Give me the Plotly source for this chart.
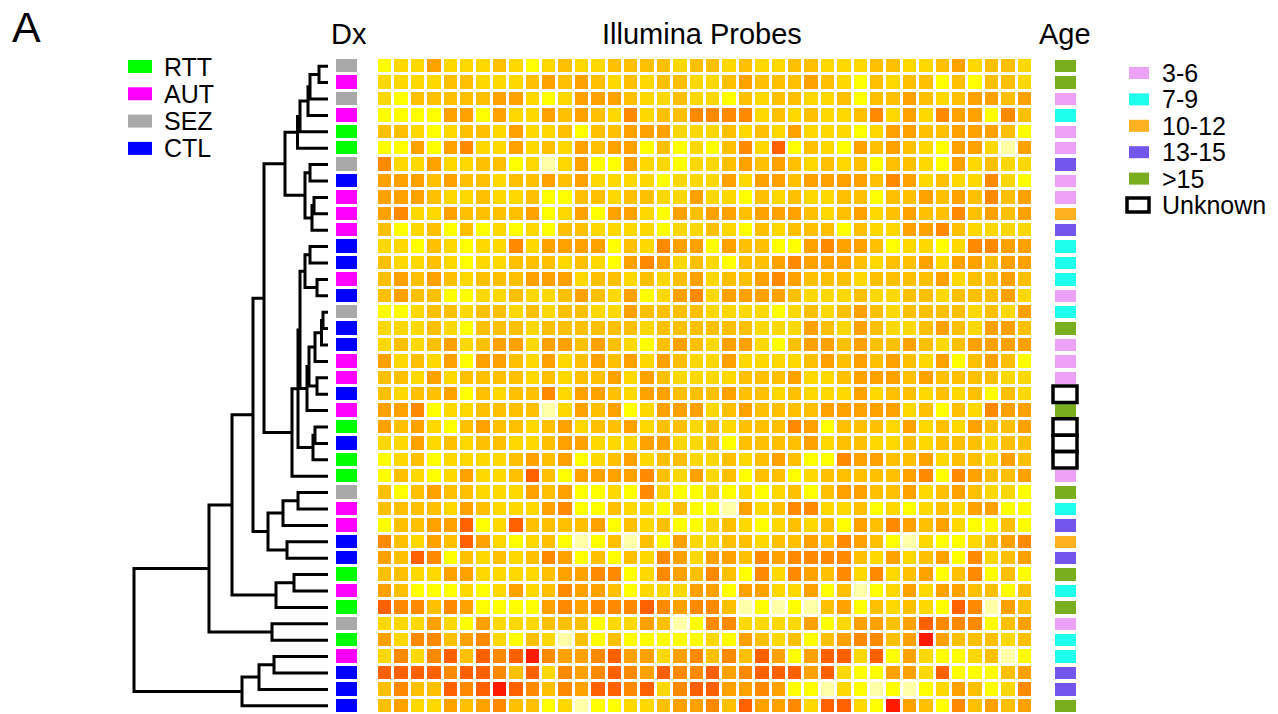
import plotly.graph_objects as go

W, H = 1278, 714

# ---- sample annotations (rows in dendrogram order) ----
dx_labels = ["SEZ", "AUT", "SEZ", "AUT", "RTT", "RTT", "SEZ", "CTL", "AUT", "AUT",
             "AUT", "CTL", "CTL", "AUT", "CTL", "SEZ", "CTL", "CTL", "AUT", "AUT",
             "CTL", "AUT", "RTT", "CTL", "RTT", "RTT", "SEZ", "AUT", "AUT", "CTL",
             "CTL", "RTT", "AUT", "RTT", "SEZ", "RTT", "AUT", "CTL", "CTL", "CTL"]

age_groups = [">15", ">15", "3-6", "7-9", "3-6", "3-6", "13-15", "3-6", "3-6", "10-12",
              "13-15", "7-9", "7-9", "7-9", "3-6", "7-9", ">15", "3-6", "3-6", "3-6",
              "Unknown", ">15", "Unknown", "Unknown", "Unknown", "3-6", ">15", "7-9", "13-15", "10-12",
              "13-15", ">15", "7-9", ">15", "3-6", "7-9", "7-9", "13-15", "13-15", ">15"]

dx_categories = ["RTT", "AUT", "SEZ", "CTL"]
dx_colors = ["#00FF00", "#FF00FF", "#A9A9A9", "#0000FF"]

age_categories = ["3-6", "7-9", "10-12", "13-15", ">15"]
age_colors = ["#EEA2F7", "#1EFFEE", "#FFB11F", "#7357ED", "#79AF1F"]

# ---- probe expression levels (0 = lowest ... 7 = highest), one string per sample ----
probe_rows = [
    "12242223212322333323" "32322332223322342332",
    "22223322234343232332" "23433343213233131332",
    "21333334421244432232" "21323322313343234434",
    "11114414224343252335" "55523232235242544153",
    "33212332422313344422" "23232422212443344431",
    "11414522423243441312" "13526132143432144204",
    "52242233120241142212" "23434323231332142322",
    "44434332334342222122" "24244344443542322521",
    "44432232231133233224" "22132322331334343534",
    "45224333341241442143" "44344432342343353434",
    "31231312121332222122" "32132333132244532222",
    "22132122524444132544" "14331145443122125544",
    "32232122333232145423" "21334544432334244344",
    "34343233344423323234" "23345433323333423343",
    "34331122322343241245" "24444322232233233342",
    "11233233232332243333" "22221232343233332324",
    "22232133323333332333" "33322243243223432443",
    "23234234424434321343" "24421344343343234444",
    "42324144324234342432" "24222234343432413431",
    "33242333323233424322" "22333422344434333322",
    "32334132335244324433" "34332322242332323132",
    "44512233330243412444" "23433334444423132544",
    "43421343323423342332" "32333541333242324334",
    "22423233223442224422" "31333342332232333233",
    "12312222343412342332" "23234311544334233243",
    "13212422363144445324" "23133123333345154334",
    "31343322243411215211" "21212313443342343221",
    "33332432224511322131" "10423552231212324411",
    "13344612633334132311" "23212323143543421131",
    "53243642123101303142" "23323343543102112345",
    "43651323235413132542" "44354555532423415234",
    "33224422223445512543" "53152543525234135131",
    "43111212423544312224" "41442241301242443313",
    "65535411114545556545" "53010103413232165043",
    "22242142223331224301" "55222241244346555134",
    "42553452132031311111" "21432313455347433323",
    "25256365675445644245" "35364146626142112301",
    "66665665362545654655" "64566646211442611134",
    "35336567653546656256" "64454110210101243125",
    "34224345331201122344" "53644526621743153434",
]
expression = [[int(c) for c in row] for row in probe_rows]

heat_colors = ["#FFFFA8", "#FFFF00", "#FFD800", "#FFC000",
               "#FFA200", "#FF8A00", "#FF6000", "#FF1A00"]

# ---- hierarchical clustering merges: (child a, child b, height); nodes >= 40 are clusters ----
linkage = [
    (0, 1, 9), (40, 2, 18), (41, 3, 20), (42, 4, 28), (43, 5, 30.5),
    (6, 7, 18), (8, 9, 14), (46, 10, 16), (45, 47, 23), (44, 48, 43),
    (11, 12, 18), (13, 14, 11), (50, 51, 23), (15, 16, 5), (53, 17, 6.5),
    (54, 18, 13), (19, 20, 11), (55, 56, 19), (57, 21, 21), (52, 58, 28),
    (22, 23, 13), (60, 24, 15), (59, 61, 30), (62, 25, 36), (49, 63, 64),
    (26, 27, 30), (65, 28, 45), (29, 30, 41), (66, 67, 60), (64, 68, 75),
    (31, 32, 34), (70, 33, 52), (69, 71, 96), (34, 35, 56), (72, 73, 119),
    (36, 37, 54), (75, 38, 69), (76, 39, 86), (74, 77, 194),
]

n = len(dx_labels)
n_probes = len(expression[0])


def px_x(p):
    return p / W


def px_y(p):
    return 1 - p / H


# dendrogram segments
pos = {i: float(i) for i in range(n)}
hgt = {i: 0.0 for i in range(n)}
dx_line, dy_line = [], []
for k, (a, b, h) in enumerate(linkage):
    dx_line += [hgt[a], h, h, hgt[b], None]
    dy_line += [pos[a], pos[a], pos[b], pos[b], None]
    pos[n + k] = (pos[a] + pos[b]) / 2
    hgt[n + k] = h


def step_scale(colors):
    m = len(colors)
    sc = []
    for i, c in enumerate(colors):
        sc += [[i / m, c], [(i + 1) / m, c]]
    return sc


rows = list(range(n))
dx_codes = [[dx_categories.index(d)] for d in dx_labels]
age_codes = [[age_categories.index(a) if a in age_categories else None] for a in age_groups]

fig = go.Figure()

fig.add_trace(go.Scatter(x=dx_line, y=dy_line, mode="lines",
                         line=dict(color="black", width=3), hoverinfo="skip",
                         xaxis="x", yaxis="y"))

fig.add_trace(go.Heatmap(z=dx_codes, x=[0], y=rows, xaxis="x2", yaxis="y",
                         colorscale=step_scale(dx_colors), zmin=-0.5,
                         zmax=len(dx_categories) - 0.5, showscale=False, ygap=3))

fig.add_trace(go.Heatmap(z=expression, x=list(range(n_probes)), y=rows, xaxis="x3", yaxis="y",
                         colorscale=[[i / 7, c] for i, c in enumerate(heat_colors)],
                         zmin=0, zmax=7, showscale=False, xgap=3, ygap=3))

fig.add_trace(go.Heatmap(z=age_codes, x=[0], y=rows, xaxis="x4", yaxis="y",
                         colorscale=step_scale(age_colors), zmin=-0.5,
                         zmax=len(age_categories) - 0.5, showscale=False, ygap=4))

shapes = []
# outlined boxes for samples of unknown age
for r, a in enumerate(age_groups):
    if a == "Unknown":
        shapes.append(dict(type="rect", xref="x4", yref="y",
                           x0=-0.5 - 2 / 21, x1=0.5 + 1 / 21, y0=r - 0.5, y1=r + 0.5,
                           line=dict(color="black", width=3.5), fillcolor="rgba(0,0,0,0)"))

annotations = []
font = "Liberation Sans, Arial, sans-serif"

# Dx legend
for i, (lab, col) in enumerate(zip(dx_categories, dx_colors)):
    cy = 66.5 + 27.3 * i
    shapes.append(dict(type="rect", xref="paper", yref="paper",
                       x0=px_x(128), x1=px_x(152), y0=px_y(cy - 6.5), y1=px_y(cy + 6.5),
                       line=dict(width=0), fillcolor=col))
    annotations.append(dict(text=lab, x=px_x(162), y=px_y(cy), xref="paper", yref="paper",
                            xanchor="left", yanchor="middle", showarrow=False,
                            font=dict(family=font, size=25, color="black")))

# Age legend
for i, (lab, col) in enumerate(zip(age_categories, age_colors)):
    cy = 73 + 26.4 * i
    shapes.append(dict(type="rect", xref="paper", yref="paper",
                       x0=px_x(1129), x1=px_x(1149), y0=px_y(cy - 6), y1=px_y(cy + 6),
                       line=dict(width=0), fillcolor=col))
    annotations.append(dict(text=lab, x=px_x(1160), y=px_y(cy), xref="paper", yref="paper",
                            xanchor="left", yanchor="middle", showarrow=False,
                            font=dict(family=font, size=25, color="black")))
cy = 73 + 26.4 * 5
shapes.append(dict(type="rect", xref="paper", yref="paper",
                   x0=px_x(1127), x1=px_x(1149), y0=px_y(cy - 7), y1=px_y(cy + 7),
                   line=dict(color="black", width=3.5), fillcolor="white"))
annotations.append(dict(text="Unknown", x=px_x(1160), y=px_y(cy), xref="paper", yref="paper",
                        xanchor="left", yanchor="middle", showarrow=False,
                        font=dict(family=font, size=25, color="black")))

# titles
for txt, cx in [("Dx", 349), ("Illumina Probes", 702), ("Age", 1065)]:
    annotations.append(dict(text=txt, x=px_x(cx), y=px_y(34), xref="paper", yref="paper",
                            xanchor="center", yanchor="middle", showarrow=False,
                            font=dict(family=font, size=29, color="black")))
annotations.append(dict(text="A", x=px_x(26), y=px_y(27), xref="paper", yref="paper",
                        xanchor="center", yanchor="middle", showarrow=False,
                        font=dict(family=font, size=43, color="black")))

hidden = dict(visible=False, fixedrange=True)
fig.update_layout(
    width=W, height=H, margin=dict(l=0, r=0, t=0, b=0),
    paper_bgcolor="white", plot_bgcolor="white", showlegend=False,
    xaxis=dict(domain=[px_x(130), px_x(331)], range=[198, -3], anchor="y", **hidden),
    xaxis2=dict(domain=[px_x(336), px_x(357)], range=[-0.5, 0.5], anchor="y", **hidden),
    xaxis3=dict(domain=[px_x(377), px_x(1033)], range=[-0.5, n_probes - 0.5], anchor="y", **hidden),
    xaxis4=dict(domain=[px_x(1050), px_x(1081)], range=[-0.5 - 5 / 21, 0.5 + 5 / 21],
                anchor="y", **hidden),
    yaxis=dict(domain=[0, px_y(58)], range=[n - 0.5, -0.5], anchor="x", **hidden),
    shapes=shapes, annotations=annotations,
)

fig.write_html("out.html")
